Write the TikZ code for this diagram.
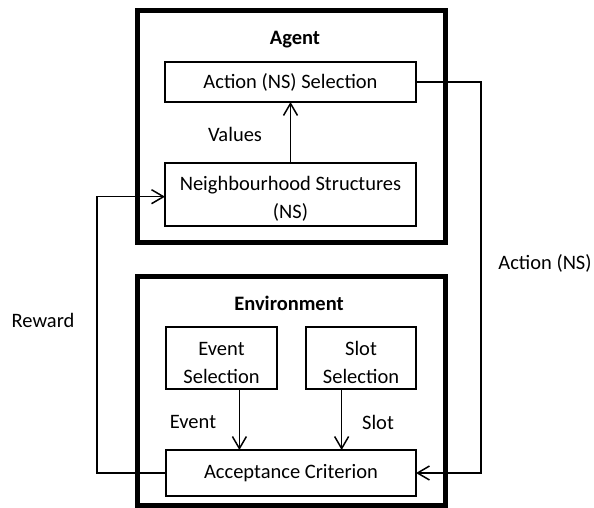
\documentclass[tikz,border=0pt]{standalone}
\usepackage{fontspec}
\setmainfont{Carlito}
\usetikzlibrary{arrows.meta,positioning}

\begin{document}
\begin{tikzpicture}[x=1pt,y=-1pt,>={Straight Barb[length=12pt,width=14pt]},
    every node/.style={font=\fontsize{20.5}{28}\selectfont},
    frame/.style={draw,line width=5pt,inner sep=0pt,outer sep=0pt},
    block/.style={draw,line width=1.3pt,inner sep=0pt,outer sep=0pt,align=center,minimum height=40},
    twoline/.style={text height=#1,text depth=0pt},
    title/.style={font=\fontsize{20.5}{28}\selectfont\bfseries},
    link/.style={line width=1.5pt}]
    \useasboundingbox (0,0) rectangle (594,508);

    % agent
    \node[frame,minimum width=308,minimum height=231.5] (agent) at (291,126.25) {};
    \node[title] (agenttitle) at (295,40) {Agent};
    \node[block,minimum width=251] (act) at (290.5,82) {Action (NS) Selection};
    \node[block,twoline=47pt,minimum width=251,minimum height=63] (ns) at (290.5,194.5) {Neighbourhood Structures\\(NS)};
    \node (values) at (235,134) {Values};

    % environment
    \node[frame,minimum width=308,minimum height=229.5] (env) at (291,390.75) {};
    \node[title] (envtitle) at (289,303) {Environment};
    \node[block,twoline=50pt,minimum width=111,minimum height=62] (event) at (221.5,358) {Event\\Selection};
    \node[block,twoline=50pt,minimum width=110,minimum height=62] (slot) at (361,358) {Slot\\Selection};
    \node[block,minimum width=250,minimum height=46] (acc) at (291,473) {Acceptance Criterion};
    \node (eventlbl) at (193,422) {Event};
    \node (slotlbl) at (378,422) {Slot};

    \node (reward) at (43,320) {Reward};
    \node (action) at (545,263) {Action (NS)};

    \draw[link,->] (ns.north) -- (act.south);
    \draw[link,->] (event.-60) -- (event.-60 |- acc.north);
    \draw[link,->] (slot.-122) -- (slot.-122 |- acc.north);
    \draw[link,->] (acc.west) -- ++(-69,0) |- (ns.181);
    \draw[link,->] (act.east) -- ++(65,0) |- (acc.east);
\end{tikzpicture}
\end{document}
